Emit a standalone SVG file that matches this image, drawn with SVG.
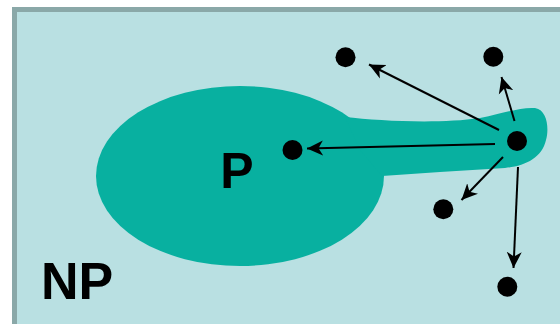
<svg xmlns="http://www.w3.org/2000/svg" width="560" height="324" viewBox="0 0 560 324">
<style>
.bg{fill:#b9e0e2;stroke:#8aa8a8;stroke-width:5}
.blob{fill:#08b0a0}
.dot{fill:#000}
.arr{stroke:#000;stroke-width:2;fill:none;marker-end:url(#ah)}
.lbl{font-family:"Liberation Sans",Arial,sans-serif;font-weight:bold;fill:#000}
</style>
<defs>
<marker id="ah" markerUnits="userSpaceOnUse" markerWidth="18" markerHeight="16" viewBox="0 0 18 16" refX="16" refY="8" orient="auto">
<path d="M16,8 L0,0.5 L4.5,8 L0,15.5 Z" fill="#000"/>
</marker>
</defs>
<rect class="bg" x="14.5" y="9.5" width="560" height="330"/>
<g id="P">
<ellipse class="blob" cx="240" cy="176" rx="144" ry="90"/>
<path class="blob" d="M345,117 C380,121 440,124 480,118 C505,113 520,107 535,108 C548,110 549,130 546,140 C542,158 525,166 505,168 L440,172 L382,176 L360,150 Z"/>
<text class="lbl" x="237" y="188" font-size="50" text-anchor="middle">P</text>
</g>
<g id="NP">
<text class="lbl" x="41" y="299" font-size="52">NP</text>
</g>
<g id="dots">
<circle class="dot" cx="345.5" cy="57.3" r="10"/>
<circle class="dot" cx="493.3" cy="56.7" r="10"/>
<circle class="dot" cx="292.5" cy="150" r="10"/>
<circle class="dot" cx="517" cy="141" r="10"/>
<circle class="dot" cx="443.3" cy="209.3" r="10"/>
<circle class="dot" cx="507.3" cy="286.7" r="10"/>
</g>
<g id="connectors">
<line class="arr" x1="499" y1="130" x2="369" y2="64.5"/>
<line class="arr" x1="514.5" y1="121" x2="501.5" y2="77"/>
<line class="arr" x1="495" y1="144" x2="307" y2="148.5"/>
<line class="arr" x1="503" y1="157" x2="461.5" y2="200"/>
<line class="arr" x1="518" y1="167" x2="513.5" y2="268"/>
</g>
</svg>
